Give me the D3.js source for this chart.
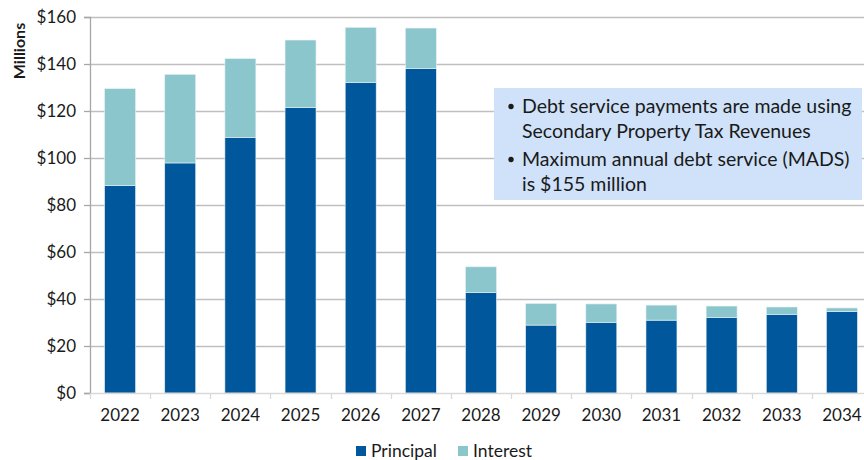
<!DOCTYPE html>
<html>
<head>
<meta charset="utf-8">
<script src="https://cdn.jsdelivr.net/npm/d3@7"></script>
<style>
  body { margin: 0; background: #fff; }
  text { font-family: Lato, "Open Sans", sans-serif; fill: #1a1a1a; }
</style>
</head>
<body>
<div id="chart"></div>
<script>
(function () {

  // fiscal years and the two stacked series (millions of dollars)
  const years = ['2022', '2023', '2024', '2025', '2026', '2027', '2028',
                 '2029', '2030', '2031', '2032', '2033', '2034']
  const principal = [88.3, 97.9, 108.8, 121.5, 132.2, 138.0, 42.7, 28.9, 30.1, 31.0, 32.2, 33.5, 34.6]
  const interest  = [41.2, 37.7, 33.5, 28.7, 23.4, 17.3, 11.0, 9.2, 7.8, 6.4, 4.8, 3.1, 1.6]
  const yTicks = [0, 20, 40, 60, 80, 100, 120, 140, 160]
  const seriesNames = ['Principal', 'Interest']
  const notes = [
    ['Debt service payments are made using', 'Secondary Property Tax Revenues'],
    ['Maximum annual debt service (MADS)', 'is $155 million']
  ]

  const W = 864, H = 460
  const margin = { top: 17, right: -8, bottom: 67, left: 90 }
  const width = W - margin.left - margin.right
  const height = H - margin.top - margin.bottom

  const svg = d3.select('#chart').append('svg')
      .attr('width', W)
      .attr('height', H)

  const g = svg.append('g')
      .attr('transform', 'translate(' + margin.left + ',' + margin.top + ')')

  const x = d3.scaleBand()
    .domain(years)
    .range([0, width])
    .paddingInner(0.485)
    .paddingOuter(0.2425)

  const y = d3.scaleLinear()
    .domain([0, 160])
    .range([height, 0])

  const color = d3.scaleOrdinal()
    .domain(seriesNames)
    .range(['#01579b', '#8cc6cd'])

  // gridlines
  g.append('g')
    .selectAll('line')
    .data(yTicks.filter(d => d > 0))
    .join('line')
    .attr('x1', 0)
    .attr('x2', width)
    .attr('y1', d => Math.round(y(d)) + 0.5)
    .attr('y2', d => Math.round(y(d)) + 0.5)
    .attr('stroke', '#bfbfbf')
    .attr('stroke-width', 1.3)

  // stacked bars
  const rows = years.map((yr, i) => ({ year: yr, Principal: principal[i], Interest: interest[i] }))
  const stacked = d3.stack().keys(seriesNames)(rows)

  g.append('g')
    .selectAll('g')
    .data(stacked)
    .join('g')
    .attr('fill', d => color(d.key))
    .selectAll('rect')
    .data(d => d)
    .join('rect')
    .attr('x', d => x(d.data.year))
    .attr('width', x.bandwidth())
    .attr('y', d => y(d[1]))
    .attr('height', d => y(d[0]) - y(d[1]))
    .attr('stroke', '#e8f1f5')
    .attr('stroke-width', 0.6)

  // y axis
  const yAxis = d3.axisLeft(y)
    .tickValues(yTicks)
    .tickFormat(d => '$' + d)
    .tickSize(6)
    .tickPadding(8)

  const ya = g.append('g')
    .attr('class', 'axis y-axis')
    .call(yAxis)
  ya.select('.domain').attr('stroke', '#a6a6a6').attr('stroke-width', 1.3)
  ya.selectAll('.tick line').attr('stroke', '#a6a6a6').attr('stroke-width', 1.3)
  ya.selectAll('text')
    .style('font-family', 'Lato, sans-serif')
    .style('font-size', '17px')
    .attr('fill', '#1a1a1a')

  // x axis: separator ticks between categories
  const xa = g.append('g')
    .attr('class', 'axis x-axis')
    .attr('transform', 'translate(0,' + height + ')')
    .call(d3.axisBottom(x).tickSize(0).tickPadding(16))
  xa.select('.domain').attr('stroke', '#d9d9d9').attr('stroke-width', 1.3)
  xa.selectAll('text')
    .style('font-family', 'Lato, sans-serif')
    .style('font-size', '17px')
    .attr('fill', '#1a1a1a')

  const step = x.step()
  const firstEdge = x(years[0]) - (step - x.bandwidth()) / 2
  xa.append('g')
    .selectAll('line')
    .data(d3.range(years.length + 1))
    .join('line')
    .attr('x1', i => Math.round(firstEdge + i * step) + 0.5)
    .attr('x2', i => Math.round(firstEdge + i * step) + 0.5)
    .attr('y1', 0)
    .attr('y2', 6)
    .attr('stroke', '#d9d9d9')
    .attr('stroke-width', 1.3)

  // y axis title
  svg.append('text')
    .attr('transform', 'translate(25,51) rotate(-90)')
    .attr('text-anchor', 'middle')
    .style('font-size', '16px')
    .style('font-weight', 'bold')
    .attr('fill', '#000')
    .text('Millions')

  // legend
  const legendX = [356, 458]
  const legend = svg.append('g')
    .selectAll('g')
    .data(seriesNames)
    .join('g')
    .attr('transform', (d, i) => 'translate(' + legendX[i] + ',446)')
  legend.append('rect')
    .attr('width', 10)
    .attr('height', 10)
    .attr('fill', d => color(d))
  legend.append('text')
    .attr('x', 15)
    .attr('y', 11)
    .style('font-size', '17.5px')
    .text(d => d)

  // call-out box
  const box = svg.append('g').attr('transform', 'translate(494,88)')
  box.append('rect')
    .attr('width', 368)
    .attr('height', 112)
    .attr('fill', '#cfe2f9')

  const lineY = [[25, 50], [78, 103]]
  notes.forEach((lines, i) => {
    box.append('circle')
      .attr('cx', 17)
      .attr('cy', lineY[i][0] - 6.5)
      .attr('r', 2.7)
      .attr('fill', '#1a1a1a')
    lines.forEach((t, j) => {
      box.append('text')
        .attr('x', 28)
        .attr('y', lineY[i][j])
        .style('font-size', '19.5px')
        .text(t)
    })
  })

})();
</script>
</body>
</html>
